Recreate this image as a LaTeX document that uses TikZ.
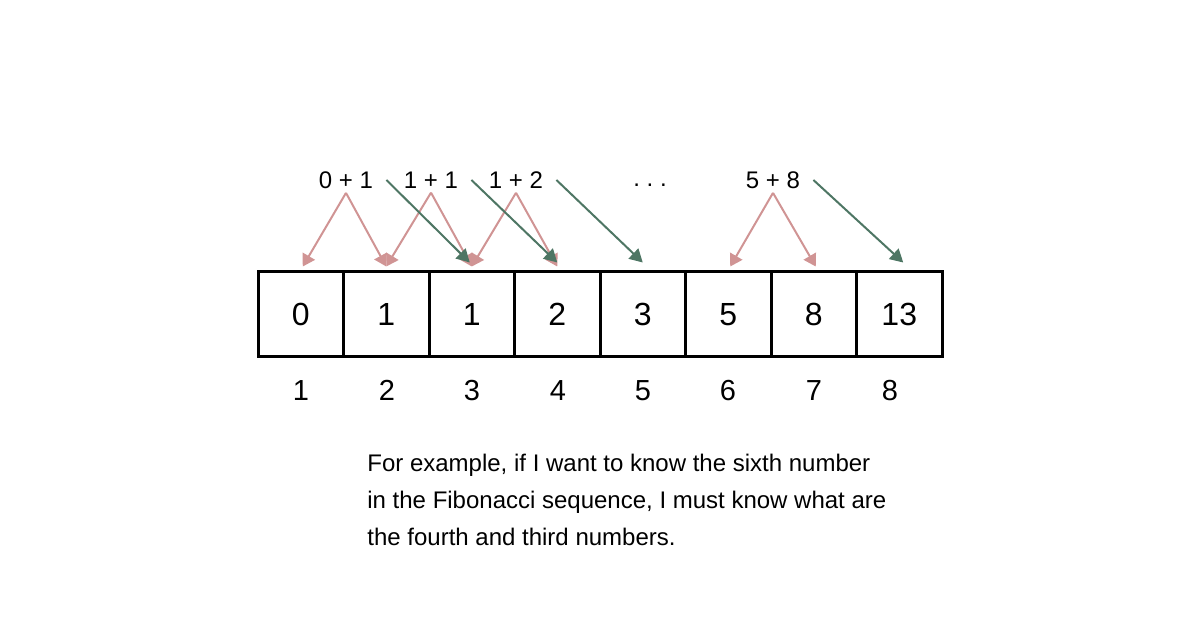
\documentclass[tikz,border=0pt]{standalone}
\usepackage{fontspec}
\setmainfont{Liberation Sans}
\usetikzlibrary{arrows.meta}

\definecolor{sumpink}{RGB}{208,148,148}
\definecolor{sumgreen}{RGB}{78,118,100}

\begin{document}
\begin{tikzpicture}[x=0.5pt, y=-0.5pt,
    cell/.style={draw, line width=1.5pt, minimum width=42.75pt, minimum height=42.5pt, inner sep=0pt, font=\fontsize{16}{18}\selectfont},
    idx/.style={inner sep=0pt, anchor=base, font=\fontsize{14.5}{17}\selectfont},
    sumlabel/.style={inner sep=2pt, font=\fontsize{12}{14}\selectfont},
    pinkarrow/.style={sumpink, line width=1pt, -{Triangle[length=6pt, width=7pt]}},
    greenarrow/.style={sumgreen, line width=1pt, -{Triangle[length=6.5pt, width=7pt]}}]
            \useasboundingbox (0,0) rectangle (1200,630);

            % the sequence
            \node[cell] (c1) at (300.75,314.5) {0};
            \node[cell] (c2) at (386.25,314.5) {1};
            \node[cell] (c3) at (471.75,314.5) {1};
            \node[cell] (c4) at (557.25,314.5) {2};
            \node[cell] (c5) at (642.75,314.5) {3};
            \node[cell] (c6) at (728.25,314.5) {5};
            \node[cell] (c7) at (813.75,314.5) {8};
            \node[cell] (c8) at (899.25,314.5) {13};

            % positions
            \node[idx] (i1) at (301,401) {1};
            \node[idx] (i2) at (387,401) {2};
            \node[idx] (i3) at (472,401) {3};
            \node[idx] (i4) at (558,401) {4};
            \node[idx] (i5) at (643,401) {5};
            \node[idx] (i6) at (728,401) {6};
            \node[idx] (i7) at (814,401) {7};
            \node[idx] (i8) at (890,401) {8};

            % sums
            \node[sumlabel] (s1) at (346,180) {0 + 1};
            \node[sumlabel] (s2) at (431,180) {1 + 1};
            \node[sumlabel] (s3) at (516,180) {1 + 2};
            \node[sumlabel] (dots) at (650,185) {.\ .\ .};
            \node[sumlabel] (s6) at (773,180) {5 + 8};

            \draw[pinkarrow] (s1.south) -- ([xshift=1pt, yshift=2pt]c1.north);
            \draw[pinkarrow] (s1.south) -- ([yshift=2pt]c2.north);
            \draw[pinkarrow] (s2.south) -- ([yshift=2pt]c2.north);
            \draw[pinkarrow] (s2.south) -- ([yshift=2pt]c3.north);
            \draw[pinkarrow] (s3.south) -- ([yshift=2pt]c3.north);
            \draw[pinkarrow] (s3.south) -- ([yshift=2pt]c4.north);
            \draw[pinkarrow] (s6.south) -- ([xshift=1pt, yshift=2pt]c6.north);
            \draw[pinkarrow] (s6.south) -- ([xshift=1pt, yshift=2pt]c7.north);

            \draw[greenarrow] ([xshift=4.5pt]s1.east) -- ([xshift=-1pt, yshift=4pt]c3.north);
            \draw[greenarrow] ([xshift=4.5pt]s2.east) -- ([yshift=4pt]c4.north);
            \draw[greenarrow] ([xshift=4.5pt]s3.east) -- ([yshift=4pt]c5.north);
            \draw[greenarrow] ([xshift=4.5pt]s6.east) -- ([xshift=2pt, yshift=4pt]c8.north);

            \node[anchor=north west, inner sep=0pt, align=left, font=\fontsize{12}{18.5}\selectfont] (note) at (367,454)
                {For example, if I want to know the sixth number\\
                 in the Fibonacci sequence, I must know what are\\
                 the fourth and third numbers.};
        \end{tikzpicture}
\end{document}
